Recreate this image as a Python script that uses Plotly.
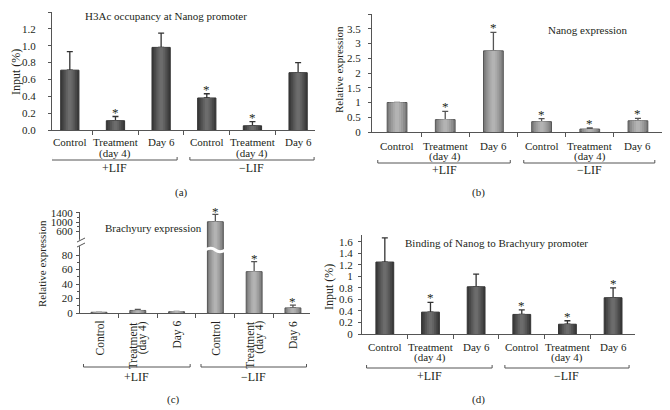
import plotly.graph_objects as go

# the page body keeps its default 8px margin, so the figure is a bit smaller than the window
OFF = 8
W, H = 670 - OFF, 410 - OFF
FONT = 'Liberation Serif, Times New Roman, serif'
TXT = '#231f20'
AX = '#555555'

cats = [('Control', ''), ('Treatment', '(day 4)'), ('Day 6', ''),
        ('Control', ''), ('Treatment', '(day 4)'), ('Day 6', '')]
groups = ['+LIF', '−LIF']
group_span = [(-0.4, 2.35), (2.63, 5.35)]

# (a) H3Ac occupancy at Nanog promoter, input (%)
a_vals = [0.71, 0.11, 0.98, 0.38, 0.05, 0.68]
a_err = [0.22, 0.05, 0.17, 0.05, 0.05, 0.12]
a_star = [0, 1, 0, 1, 1, 0]

# (b) Nanog expression, relative
b_vals = [1.0, 0.42, 2.75, 0.35, 0.10, 0.38]
b_err = [0, 0.28, 0.63, 0.10, 0.04, 0.08]
b_star = [0, 1, 1, 1, 1, 1]

# (c) Brachyury expression, relative (broken axis)
c_vals = [1.0, 3.5, 1.8, 1010, 57, 7]
c_err = [0, 1.5, 0.4, 330, 14, 4]
c_star = [0, 0, 0, 1, 1, 1]

# (d) Binding of Nanog to Brachyury promoter, input (%)
d_vals = [1.25, 0.38, 0.82, 0.34, 0.17, 0.63]
d_err = [0.42, 0.17, 0.22, 0.08, 0.06, 0.17]
d_star = [0, 1, 0, 1, 1, 1]

dark = ['#3a3a3a', '#474747', '#555555', '#626262', '#6c6c6c']
light = ['#7c7c7c', '#8d8d8d', '#9c9c9c', '#a9a9a9', '#b3b3b3']

C_LOW = [0, 86.9]
C_HIGH = [-244, 1444]


def px(x):
    return (x - OFF) / W


def py(y):
    return 1 - (y - OFF) / H


fig = go.Figure()


def add_bars(xs, ys, xa, ya, width, shades, edge, err=None, base=None):
    n = len(shades)
    for k, col in enumerate(shades):
        w = width * (n - k) / n
        eb = None
        if k == 0 and err is not None:
            eb = dict(type='data', array=err, arrayminus=[0] * len(err), symmetric=False,
                      color=edge, thickness=1.3, width=3)
        fig.add_trace(go.Bar(
            x=xs, y=ys, base=base, width=w, xaxis=xa, yaxis=ya,
            marker=dict(color=col, line=dict(color=edge if k == 0 else col, width=1 if k == 0 else 0)),
            error_y=eb, showlegend=False, hoverinfo='skip'))


idx = list(range(6))
add_bars(idx, a_vals, 'x', 'y', 0.4, dark, '#333333', a_err)
add_bars(idx, b_vals, 'x2', 'y2', 0.41, light, '#555555', b_err)
add_bars(idx, d_vals, 'x4', 'y4', 0.39, dark, '#333333', d_err)

# (c) lower part: all bars, broken one clipped at axis top
broken = [v > C_LOW[1] for v in c_vals]
c_err_low = [0 if b else e for e, b in zip(c_err, broken)]
add_bars(idx, c_vals, 'x3', 'y3', 0.41, light, '#555555', c_err_low)
# (c) upper part: only the broken bar
up_x = [i for i in idx if broken[i]]
up_y = [c_vals[i] - C_HIGH[0] for i in up_x]
up_e = [c_err[i] for i in up_x]
add_bars(up_x, up_y, 'x3', 'y5', 0.41, light, '#555555', up_e, base=[C_HIGH[0]] * len(up_x))


def xcfg(domain, rng, anchor):
    return dict(domain=domain, range=rng, anchor=anchor, showticklabels=False, ticks='',
                minor=dict(tickmode='array', tickvals=[0.5, 1.5, 2.5, 3.5, 4.5], ticks='outside',
                           ticklen=4, tickcolor=AX),
                showline=True, linecolor=AX, linewidth=1, showgrid=False, zeroline=False,
                automargin=False, fixedrange=True)


def ycfg(domain, rng, anchor, dtick, standoff, fmt=None, minor=None, tickvals=None):
    d = dict(domain=domain, range=rng, anchor=anchor, dtick=dtick, ticks='outside', ticklen=3,
             tickcolor=AX, showline=True, linecolor=AX, linewidth=1, showgrid=False, zeroline=False,
             automargin=False, ticklabelstandoff=standoff,
             tickfont=dict(family=FONT, size=11, color=TXT), fixedrange=True)
    if fmt:
        d['tickformat'] = fmt
    if minor:
        d['minor'] = dict(dtick=minor, ticks='outside', ticklen=2, tickcolor=AX)
    if tickvals is not None:
        d['tickmode'] = 'array'
        d['tickvals'] = tickvals
        d.pop('dtick')
    return d


fig.update_layout(
    template='none',
    width=W, height=H, margin=dict(l=0, r=0, t=0, b=0, pad=0), autosize=False,
    paper_bgcolor='white', plot_bgcolor='white', barmode='overlay', showlegend=False,
    font=dict(family=FONT, size=12, color=TXT),
    xaxis=xcfg([px(52), px(315)], [-0.39, 5.37], 'y'),
    yaxis=ycfg([py(130), py(12)], [0, 1.4], 'x', 0.2, 10, fmt='.1f'),
    xaxis2=xcfg([px(372), px(663)], [-0.52, 5.52], 'y2'),
    yaxis2=ycfg([py(132), py(14)], [0, 4], 'x2', 0.5, 5),
    xaxis3=xcfg([px(80), px(310)], [-0.49, 5.44], 'y3'),
    yaxis3=ycfg([py(313), py(250)], C_LOW, 'x3', 20, 1, minor=10),
    yaxis5=ycfg([py(250), py(212)], C_HIGH, 'x3', None, 1, tickvals=[600, 1000, 1400]),
    xaxis4=xcfg([px(362), px(635)], [-0.5, 5.48], 'y4'),
    yaxis4=ycfg([py(334), py(235)], [0, 1.72], 'x4', 0.2, 3),
)
fig.layout.yaxis5.minor = dict(tickmode='array', tickvals=[800, 1200], ticks='outside', ticklen=2, tickcolor=AX)

ann = []
shapes = []


def note(x, y, text, size=12, angle=0, xref='paper', yref='paper', xanchor='center',
         yanchor='middle', xshift=0):
    ann.append(dict(x=x, y=y, xref=xref, yref=yref, text=text, showarrow=False, textangle=angle,
                    xanchor=xanchor, yanchor=yanchor, xshift=xshift,
                    font=dict(family=FONT, size=size, color=TXT)))


def star(x, y, xa, ya, shift):
    ann.append(dict(x=x, y=y, xref=xa, yref=ya, text='*', showarrow=False,
                    xanchor='center', yanchor='bottom', yshift=shift,
                    font=dict(family=FONT, size=13, color=TXT)))


for vals, errs, flags, xa, ya in [(a_vals, a_err, a_star, 'x', 'y'),
                                  (b_vals, b_err, b_star, 'x2', 'y2'),
                                  (d_vals, d_err, d_star, 'x4', 'y4')]:
    for i in idx:
        if flags[i]:
            star(i, vals[i] + errs[i], xa, ya, -5)
for i in idx:
    if c_star[i]:
        star(i, c_vals[i] + c_err[i], 'x3', 'y5' if broken[i] else 'y3', -7 if broken[i] else -6)


# category labels, two tight lines
def cat_labels(xa, y1, y2):
    for i, (l1, l2) in enumerate(cats):
        note(i, py(y1), l1, size=11, xref=xa)
        if l2:
            note(i, py(y2), l2, size=11, xref=xa)


cat_labels('x', 142, 153)
cat_labels('x2', 145.5, 156.5)
cat_labels('x4', 346.5, 357)
# (c) labels are rotated and hang from the axis
for i, (l1, l2) in enumerate(cats):
    if l2:
        note(i, py(319), l1, size=11.5, angle=-90, xref='x3', yanchor='top', xshift=-4.5)
        note(i, py(319), l2, size=11.5, angle=-90, xref='x3', yanchor='top', xshift=5)
    else:
        note(i, py(319), l1, size=11.5, angle=-90, xref='x3', yanchor='top')


def brackets(xa, ybr, ylab):
    for (g0, g1), g in zip(group_span, groups):
        y0, y1 = py(ybr), py(ybr - 3)
        shapes.append(dict(type='path', xref=xa, yref='paper',
                           path=f'M {g0},{y1} L {g0},{y0} L {g1},{y0} L {g1},{y1}',
                           line=dict(color=AX, width=1)))
        note((g0 + g1) / 2, py(ylab), g, xref=xa)


brackets('x', 160, 168)
brackets('x2', 163, 170)
brackets('x3', 367, 377)
brackets('x4', 368, 376)

# panel titles, axis titles, letters
note(px(166), py(16), 'H3Ac occupancy at Nanog promoter', size=11)
note(px(588), py(30), 'Nanog expression', size=11)
note(px(153), py(228), 'Brachyury expression', size=11)
note(px(496), py(243), 'Binding of Nanog to Brachyury promoter', size=11)
note(px(16), py(72), 'Input (%)', angle=-90)
note(px(339), py(70), 'Relative expression', size=11, angle=-90)
note(px(42), py(264), 'Relative expression', size=11, angle=-90)
note(px(329), py(287), 'Input (%)', angle=-90)
note(px(182), py(193), '(a)', size=11)
note(px(478), py(193), '(b)', size=11)
note(px(173), py(399), '(c)', size=11)
note(px(478), py(399), '(d)', size=11)

# broken-axis decorations for (c)
for i in idx:
    if broken[i]:
        yc, a = py(250), 2.5 / H
        x0, x1 = i - 0.26, i + 0.26
        shapes.append(dict(type='path', xref='x3', yref='paper',
                           path=(f'M {x0},{yc} C {i - 0.15},{yc + a} {i - 0.08},{yc + a} {i},{yc} '
                                 f'C {i + 0.08},{yc - a} {i + 0.15},{yc - a} {x1},{yc}'),
                           line=dict(color='white', width=3)))
shapes.append(dict(type='line', xref='paper', yref='paper', x0=px(79), x1=px(81), y0=py(246), y1=py(240),
                   line=dict(color='white', width=3)))
for yy in (240, 245):
    shapes.append(dict(type='line', xref='paper', yref='paper', x0=px(77), x1=px(85),
                       y0=py(yy + 2), y1=py(yy - 2), line=dict(color=AX, width=1)))

fig.update_layout(annotations=ann, shapes=shapes)
fig.write_html('out.html')
